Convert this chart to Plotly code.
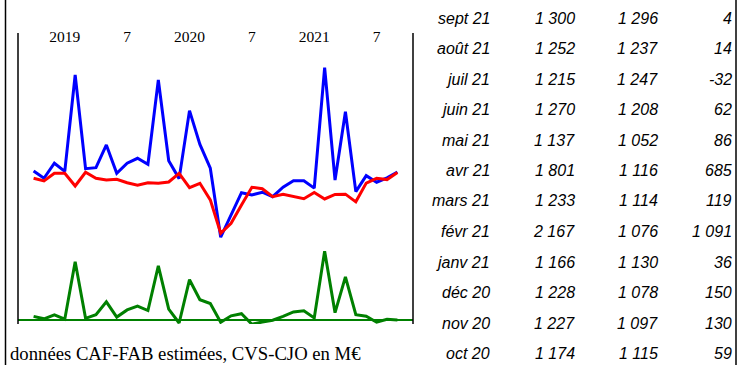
import plotly.graph_objects as go

W, H = 741, 365

# Monthly series, Oct 2018 -> Sep 2021, in M€
caf = [1309, 1248, 1373, 1305, 2106, 1328, 1336, 1525, 1289, 1373, 1414, 1364,
       2065, 1393, 1245, 1810, 1529, 1331, 758, 943, 1128, 1109, 1132, 1095,
       1174, 1227, 1228, 1166, 2167, 1233, 1801, 1137, 1270, 1215, 1252, 1300]
fab = [1248, 1226, 1289, 1290, 1184, 1298, 1248, 1234, 1240, 1211, 1190, 1211,
       1206, 1217, 1289, 1170, 1206, 1068, 791, 874, 1026, 1173, 1161, 1095,
       1115, 1097, 1078, 1130, 1076, 1114, 1116, 1052, 1208, 1247, 1237, 1296]
solde = [61, 22, 84, 15, 922, 30, 88, 291, 49, 162, 224, 153,
         859, 176, -44, 640, 323, 263, -33, 69, 102, -64, -29, 0,
         59, 130, 150, 36, 1091, 119, 685, 86, 62, -32, 14, 4]

month_names = ["oct", "nov", "déc", "janv", "févr", "mars",
               "avr", "mai", "juin", "juil", "août", "sept"]
start_year = 2018

tick_pos = [3, 9, 15, 21, 27, 33]
tick_text = ["2019", "7", "2020", "7", "2021", "7"]

footer = "données CAF-FAB estimées, CVS-CJO en M€"

n = len(caf)
x = list(range(n))


def month_label(i):
    yr = start_year + (i + 9) // 12
    return f"{month_names[i % 12]} {yr % 100:02d}"


def fmt(v):
    return f"{v:,}".replace(",", " ")


def px(xp):
    return xp / W


def py(yp):
    return 1 - yp / H


fig = go.Figure()
fig.add_trace(go.Scatter(x=x, y=caf, mode="lines", line=dict(color="#0000FF", width=3),
                         yaxis="y", showlegend=False, hoverinfo="skip"))
fig.add_trace(go.Scatter(x=x, y=fab, mode="lines", line=dict(color="#FF0000", width=3),
                         yaxis="y", showlegend=False, hoverinfo="skip"))
fig.add_trace(go.Scatter(x=x, y=solde, mode="lines", line=dict(color="#008000", width=3),
                         yaxis="y2", showlegend=False, hoverinfo="skip"))

plot_top, plot_bot = 33, 324
plot_left, plot_right = 18, 413

fig.update_layout(
    width=W, height=H,
    margin=dict(l=0, r=0, t=0, b=0),
    paper_bgcolor="white", plot_bgcolor="white",
    xaxis=dict(domain=[px(plot_left), px(plot_right)], range=[-1.5, 36.5],
               side="top", tickvals=tick_pos, ticktext=tick_text,
               ticklabelposition="inside", ticklabelstandoff=-5,
               ticks="", showgrid=False, zeroline=False, showline=False,
               tickfont=dict(family="Liberation Serif", size=15.5, color="black")),
    yaxis=dict(domain=[py(plot_bot), py(plot_top)], range=[37, 2455],
               showticklabels=False, showgrid=False, zeroline=False, ticks=""),
    yaxis2=dict(domain=[py(plot_bot), py(plot_top)], range=[-60, 4538], overlaying="y",
                showticklabels=False, showgrid=False, zeroline=True,
                zerolinecolor="#008000", zerolinewidth=1.5, ticks=""),
)

# frame lines
shapes = []
for xv in (5.5, 736):
    shapes.append(dict(type="line", xref="paper", yref="paper",
                       x0=px(xv), x1=px(xv), y0=0, y1=1,
                       line=dict(color="black", width=1.5)))
for xv in (plot_left, plot_right):
    shapes.append(dict(type="line", xref="paper", yref="paper",
                       x0=px(xv), x1=px(xv), y0=py(plot_bot), y1=py(plot_top),
                       line=dict(color="black", width=1.5)))
fig.update_layout(shapes=shapes)

annotations = [dict(text=footer, xref="paper", yref="paper", x=px(8), y=py(353),
                    xanchor="left", yanchor="middle", showarrow=False,
                    font=dict(family="Liberation Serif", size=18.7, color="black"))]

# table of the last twelve months, most recent first
col_right = [492, 577, 660, 734]
tfont = dict(family="Liberation Sans", size=16, color="black", style="italic")
for k in range(12):
    i = n - 1 - k
    yc = 18 + 30.5 * k
    cells = [month_label(i), fmt(caf[i]), fmt(fab[i]), fmt(solde[i])]
    for cx, txt in zip(col_right, cells):
        annotations.append(dict(text=txt, xref="paper", yref="paper", x=px(cx), y=py(yc),
                                xanchor="right", yanchor="middle", showarrow=False,
                                font=tfont))
fig.update_layout(annotations=annotations)

fig.write_html("out.html")
